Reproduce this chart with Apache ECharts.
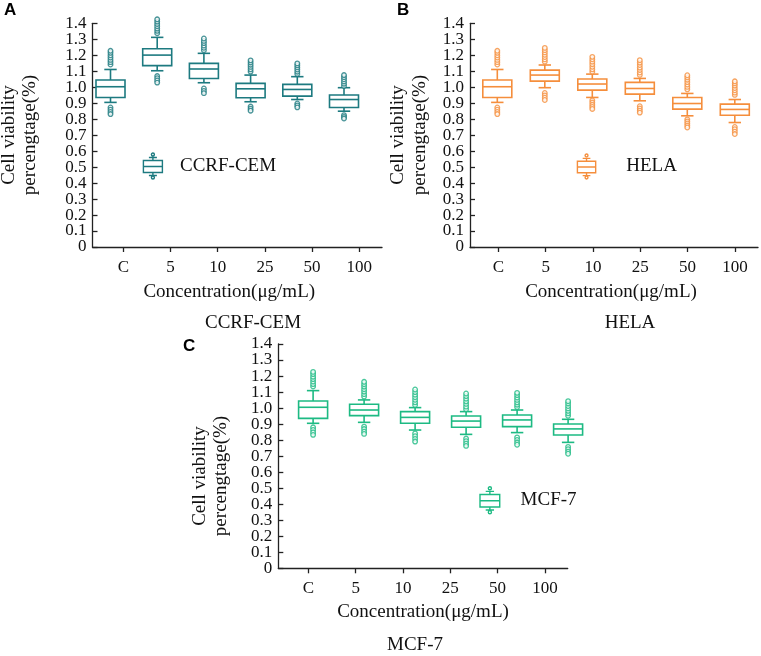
<!DOCTYPE html>
<html>
<head>
<meta charset="utf-8">
<title>Cell viability</title>
<script src="https://cdn.jsdelivr.net/npm/echarts@6/dist/echarts.min.js"></script>
<style>
html, body { margin: 0; padding: 0; background: #fff; }
#main { width: 761px; height: 656px; }
</style>
</head>
<body>
<div id="main"></div>
<script>
var categories = ['C', '5', '10', '25', '50', '100'];
var yTicks = [0, 0.1, 0.2, 0.3, 0.4, 0.5, 0.6, 0.7, 0.8, 0.9, 1.0, 1.1, 1.2, 1.3, 1.4];

// box stats per concentration: [min, Q1, median, Q3, max]
var ccrfBoxes = [
    [0.905, 0.936, 1.003, 1.045, 1.111],
    [1.103, 1.135, 1.201, 1.241, 1.312],
    [1.028, 1.055, 1.114, 1.149, 1.212],
    [0.909, 0.934, 0.990, 1.024, 1.076],
    [0.923, 0.944, 0.986, 1.018, 1.066],
    [0.850, 0.873, 0.923, 0.951, 0.997]
];
var ccrfHigh = [
    [1.142, 1.157, 1.171, 1.186, 1.200, 1.215, 1.228],
    [1.338, 1.353, 1.367, 1.382, 1.396, 1.411, 1.425],
    [1.232, 1.247, 1.261, 1.276, 1.290, 1.305],
    [1.098, 1.112, 1.127, 1.141, 1.155, 1.168],
    [1.083, 1.097, 1.111, 1.124, 1.137, 1.149],
    [1.008, 1.022, 1.036, 1.050, 1.063, 1.076]
];
var ccrfLow = [
    [0.873, 0.859, 0.845, 0.832],
    [1.070, 1.056, 1.042, 1.029],
    [0.992, 0.977, 0.963],
    [0.879, 0.866, 0.853],
    [0.898, 0.886, 0.874],
    [0.825, 0.814, 0.804]
];

var helaBoxes = [
    [0.905, 0.936, 1.003, 1.045, 1.111],
    [0.997, 1.038, 1.076, 1.107, 1.139],
    [0.936, 0.982, 1.020, 1.051, 1.082],
    [0.915, 0.957, 0.992, 1.030, 1.055],
    [0.821, 0.863, 0.898, 0.936, 0.961],
    [0.779, 0.825, 0.861, 0.894, 0.923]
];
var helaHigh = [
    [1.142, 1.157, 1.171, 1.186, 1.200, 1.215, 1.228],
    [1.160, 1.174, 1.189, 1.203, 1.218, 1.232, 1.246],
    [1.097, 1.112, 1.128, 1.144, 1.160, 1.175, 1.190],
    [1.077, 1.092, 1.108, 1.123, 1.139, 1.154, 1.169],
    [0.987, 1.002, 1.017, 1.032, 1.047, 1.062, 1.075],
    [0.952, 0.966, 0.981, 0.995, 1.010, 1.024, 1.037]
];
var helaLow = [
    [0.873, 0.859, 0.845, 0.832],
    [0.964, 0.949, 0.934, 0.920],
    [0.918, 0.904, 0.890, 0.877, 0.864],
    [0.881, 0.867, 0.853, 0.841],
    [0.799, 0.786, 0.773, 0.760, 0.748],
    [0.751, 0.737, 0.722, 0.707]
];

var mcfBoxes = [
    [0.905, 0.936, 1.005, 1.044, 1.109],
    [0.911, 0.953, 0.988, 1.024, 1.051],
    [0.863, 0.905, 0.942, 0.978, 1.003],
    [0.836, 0.880, 0.919, 0.951, 0.978],
    [0.847, 0.884, 0.926, 0.957, 0.988],
    [0.786, 0.832, 0.870, 0.901, 0.930]
];
var mcfHigh = [
    [1.135, 1.150, 1.166, 1.181, 1.196, 1.212, 1.226],
    [1.072, 1.087, 1.103, 1.118, 1.134, 1.149, 1.164],
    [1.020, 1.036, 1.052, 1.068, 1.084, 1.100, 1.116],
    [0.993, 1.009, 1.026, 1.042, 1.059, 1.075, 1.091],
    [1.006, 1.021, 1.036, 1.051, 1.066, 1.081, 1.095],
    [0.952, 0.967, 0.983, 0.998, 1.013, 1.029, 1.043]
];
var mcfLow = [
    [0.880, 0.864, 0.848, 0.833],
    [0.884, 0.869, 0.853, 0.839],
    [0.842, 0.825, 0.808, 0.791],
    [0.810, 0.794, 0.778, 0.764],
    [0.817, 0.801, 0.785, 0.771],
    [0.758, 0.743, 0.728, 0.715]
];

var SERIF = '"Liberation Serif", "Times New Roman", serif';
var BOX_ICON = 'path://M23,4A3,3,0,1,1,17,4A3,3,0,1,1,23,4ZM12,10L28,10M20,10L20,16M1,16L39,16L39,40L1,40ZM1,28L39,28M20,40L20,46M12,46L28,46M23,50A3,3,0,1,1,17,50A3,3,0,1,1,23,50Z';

// the tick labels sit closer than their font height, so they go on two
// stacked axes (even / odd) to stop echarts from dropping the overlapping ones
var yEven = yTicks.filter(function (v, i) { return i % 2 === 0; });
var yOdd = yTicks.filter(function (v, i) { return i % 2 === 1; });

// pixel layout of each panel (axis line x, axis end x, y of 1.4, y of 0)
var panels = [
    {name: 'CCRF-CEM', color: '#1d7a80', boxes: ccrfBoxes, high: ccrfHigh, low: ccrfLow,
     left: 92.5, right: 382, top: 23.3, zero: 247, tick0: 123.3, tickStep: 47.2, box0: 110.5, boxStep: 46.7,
     nameGap: 36, namePadRight: 16, legend: {left: 142.7, top: 152.3, w: 19, h: 26, gap: 12.6},
     yName: {x1: 9, x2: 30, y: 135}, letter: {t: 'A', x: 4, y: 2}, caption: {x: 253, y: 323.5}},
    {name: 'HELA', color: '#f58e3c', boxes: helaBoxes, high: helaHigh, low: helaLow,
     left: 470, right: 758, top: 23.3, zero: 247, tick0: 498.4, tickStep: 47.3, box0: 497.3, boxStep: 47.5,
     nameGap: 36, namePadRight: 6, legend: {left: 576.7, top: 153.3, w: 20.6, h: 25, gap: 24.4},
     yName: {x1: 398, x2: 420, y: 135}, letter: {t: 'B', x: 397, y: 2}, caption: {x: 630, y: 323.5}},
    {name: 'MCF-7', color: '#1dba83', boxes: mcfBoxes, high: mcfHigh, low: mcfLow,
     left: 278.3, right: 567.7, top: 344, zero: 568.3, tick0: 308.4, tickStep: 47.3, box0: 313.1, boxStep: 51,
     nameGap: 34, namePadRight: 0, legend: {left: 479.3, top: 486, w: 20, h: 27, gap: 15.7},
     yName: {x1: 200, x2: 221, y: 476}, letter: {t: 'C', x: 183, y: 338}, caption: {x: 415, y: 645}}
];

function boxRenderer(color) {
    return function (params, api) {
        var x = api.value(0);
        var lo = api.coord([x, api.value(1)]);
        var q1 = api.coord([x, api.value(2)]);
        var md = api.coord([x, api.value(3)]);
        var q3 = api.coord([x, api.value(4)]);
        var hi = api.coord([x, api.value(5)]);
        var cx = md[0], hw = 14.5, cw = 6.2;
        var lineSt = {stroke: color, lineWidth: 1.6};
        function seg(x1, y1, x2, y2) {
            return {type: 'line', shape: {x1: x1, y1: y1, x2: x2, y2: y2}, style: lineSt};
        }
        return {
            type: 'group',
            children: [
                seg(cx, hi[1], cx, q3[1]),
                seg(cx - cw, hi[1], cx + cw, hi[1]),
                seg(cx, q1[1], cx, lo[1]),
                seg(cx - cw, lo[1], cx + cw, lo[1]),
                {type: 'rect', shape: {x: cx - hw, y: q3[1], width: hw * 2, height: q1[1] - q3[1]},
                 style: {stroke: color, fill: '#fff', lineWidth: 1.6}},
                seg(cx - hw, md[1], cx + hw, md[1])
            ]
        };
    };
}

function yLabel(v) { return v === 0 ? '0' : v.toFixed(1); }

var grid = [], xAxis = [], yAxis = [], series = [], legend = [], graphic = [];

panels.forEach(function (p, k) {
    grid.push({left: p.left, top: p.top, width: p.right - p.left, height: p.zero - p.top});

    // visible axis: ticks and labels at category positions
    xAxis.push({
        type: 'value', gridIndex: k,
        min: (p.left - p.tick0) / p.tickStep,
        max: (p.right - p.tick0) / p.tickStep,
        name: 'Concentration(μg/mL)', nameLocation: 'middle', nameGap: p.nameGap,
        nameTextStyle: {fontFamily: SERIF, fontSize: 19, color: '#111', padding: [0, p.namePadRight, 0, 0]},
        axisLine: {onZero: false, lineStyle: {color: '#222', width: 1.3}},
        axisTick: {length: 5, lineStyle: {color: '#222', width: 1.3}, customValues: [0, 1, 2, 3, 4, 5]},
        axisLabel: {
            customValues: [0, 1, 2, 3, 4, 5], margin: 12,
            fontFamily: SERIF, fontSize: 17, color: '#111',
            formatter: function (v) { return categories[Math.round(v)]; }
        },
        splitLine: {show: false}
    });
    // hidden axis that places the boxes
    xAxis.push({
        type: 'value', gridIndex: k, show: false,
        min: (p.left - p.box0) / p.boxStep,
        max: (p.right - p.box0) / p.boxStep
    });
    yAxis.push({
        type: 'value', gridIndex: k, min: 0, max: 1.4, position: 'left',
        axisLine: {show: true, onZero: false, lineStyle: {color: '#222', width: 1.3}},
        axisTick: {show: true, inside: true, length: 5, customValues: yTicks, lineStyle: {color: '#222', width: 1.3}},
        axisLabel: {
            customValues: yEven, margin: 6, fontFamily: SERIF, fontSize: 17, color: '#111',
            showMinLabel: true, showMaxLabel: true, formatter: yLabel
        },
        splitLine: {show: false}
    });
    yAxis.push({
        type: 'value', gridIndex: k, min: 0, max: 1.4, position: 'left', offset: 0,
        axisLine: {show: false}, axisTick: {show: false},
        axisLabel: {
            customValues: yOdd, margin: 6, fontFamily: SERIF, fontSize: 17, color: '#111',
            formatter: yLabel
        },
        splitLine: {show: false}
    });

    var boxData = p.boxes.map(function (b, i) { return [i].concat(b); });
    var outliers = [];
    categories.forEach(function (c, i) {
        p.high[i].forEach(function (v) { outliers.push([i, v]); });
        p.low[i].forEach(function (v) { outliers.push([i, v]); });
    });

    series.push({
        name: p.name, type: 'custom', xAxisIndex: k * 2 + 1, yAxisIndex: k * 2,
        itemStyle: {color: p.color},
        encode: {x: 0, y: [1, 2, 3, 4, 5]},
        clip: false,
        renderItem: boxRenderer(p.color),
        data: boxData
    });
    series.push({
        name: p.name + ' outliers', type: 'scatter', xAxisIndex: k * 2 + 1, yAxisIndex: k * 2,
        symbol: 'circle', symbolSize: 4.6, silent: true, clip: false,
        itemStyle: {color: '#fff', borderColor: p.color, borderWidth: 1.3},
        data: outliers
    });

    legend.push({
        left: p.legend.left, top: p.legend.top, padding: 0, orient: 'vertical',
        selectedMode: false, itemWidth: p.legend.w, itemHeight: p.legend.h,
        textStyle: {fontFamily: SERIF, fontSize: 19, color: '#111', padding: [0, 0, 0, p.legend.gap]},
        data: [{name: p.name, icon: BOX_ICON,
                itemStyle: {color: '#fff', borderColor: p.color, borderWidth: 1.4}}]
    });

    graphic.push({
        type: 'text', x: p.letter.x, y: p.letter.y,
        style: {text: p.letter.t, font: 'bold 17px "Liberation Sans", Arial, sans-serif', fill: '#000'}
    });
    graphic.push({
        type: 'text', x: p.yName.x1, y: p.yName.y, rotation: Math.PI / 2,
        style: {text: 'Cell viability', font: '19px ' + SERIF, fill: '#111', align: 'center', verticalAlign: 'middle'}
    });
    graphic.push({
        type: 'text', x: p.yName.x2, y: p.yName.y, rotation: Math.PI / 2,
        style: {text: 'percengtage(%)', font: '19px ' + SERIF, fill: '#111', align: 'center', verticalAlign: 'middle'}
    });
    graphic.push({
        type: 'text', x: p.caption.x, y: p.caption.y,
        style: {text: p.name, font: '19px ' + SERIF, fill: '#111', align: 'center', verticalAlign: 'middle'}
    });
});

var myChart = echarts.init(document.getElementById('main'), null, {renderer: 'canvas'});
var option = {
    backgroundColor: '#fff',
    animation: false,
    grid: grid,
    xAxis: xAxis,
    yAxis: yAxis,
    legend: legend,
    graphic: graphic,
    series: series
};
myChart.setOption(option);
</script>
</body>
</html>
